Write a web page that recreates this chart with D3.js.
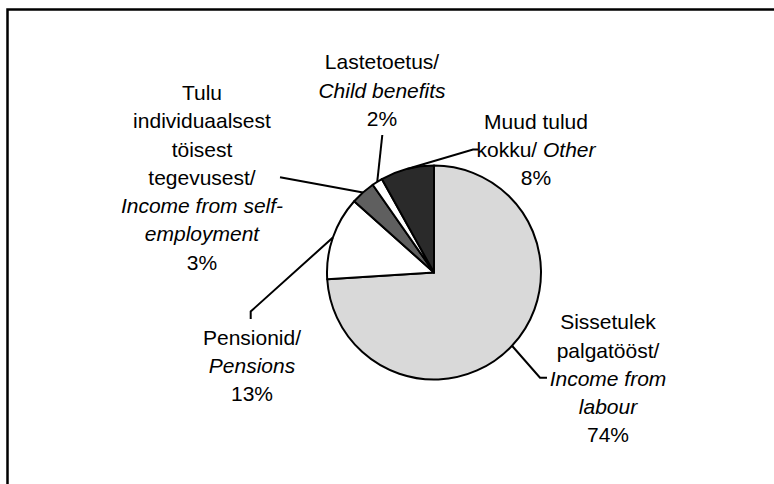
<!DOCTYPE html>
<html>
<head>
<meta charset="utf-8">
<script src="https://cdn.jsdelivr.net/npm/d3@7"></script>
<style>
  html, body { margin: 0; padding: 0; background: #fff; }
  svg { display: block; }
  text { font-family: "Liberation Sans", Arial, sans-serif; font-size: 21px; fill: #000; }
</style>
</head>
<body>
<div id="chart"></div>
<script>
// ---- data ----
const categories = ["labour", "pensions", "selfEmployment", "childBenefits", "other"];
const values = [74.0, 12.6, 3.7, 1.6, 8.1];
const pctLabels = ["74%", "13%", "3%", "2%", "8%"];
// label lines: [text, italic]
const labelLines = [
  [[["Sissetulek", false]], [["palgatööst/", false]], [["Income from", true]], [["labour", true]]],
  [[["Pensionid/", false]], [["Pensions", true]]],
  [[["Tulu", false]], [["individuaalsest", false]], [["töisest", false]], [["tegevusest/", false]], [["Income from self-", true]], [["employment", true]]],
  [[["Lastetoetus/", false]], [["Child benefits", true]]],
  [[["Muud tulud", false]], [["kokku/ ", false], ["Other", true]]]
];
const colors = ["#d9d9d9", "#ffffff", "#5f5f5f", "#ffffff", "#2a2a2a"];

// ---- layout ----
const W = 774, H = 484;
const cx = 434, cy = 272.5, R = 107;
const lineH = 28.3;
const labelPos = [
  {x: 608, y: 321.7, leader: [[540, 377.7], [547, 377.7]]},
  {x: 252, y: 337.3, leader: [[250.7, 311.5], [250.7, 319]]},
  {x: 202, y: 92.4,  leader: [[280, 177.3]]},
  {x: 382, y: 61.7,  leader: [[382.3, 135]]},
  {x: 536, y: 121.3, leader: [[473, 149.5], [478, 149.5]]}
];

const svg = d3.select("#chart").append("svg").attr("width", W).attr("height", H);

// outer border
svg.append("rect")
  .attr("x", 7.5).attr("y", 9.5).attr("width", 900).attr("height", 600)
  .attr("fill", "none").attr("stroke", "#000").attr("stroke-width", 2.5);

const data = categories.map((c, i) => ({cat: c, value: values[i], i}));
const pie = d3.pie().value(d => d.value).sort(null);
const arcs = pie(data);
const arc = d3.arc().innerRadius(0).outerRadius(R);

const g = svg.append("g").attr("transform", `translate(${cx},${cy})`);
g.selectAll("path.slice").data(arcs).enter().append("path")
  .attr("class", "slice")
  .attr("d", arc)
  .attr("fill", d => colors[d.data.i])
  .attr("stroke", "#000")
  .attr("stroke-width", 2)
  .attr("stroke-linejoin", "round");

// leader lines
const line = d3.line();
arcs.forEach(a => {
  const mid = (a.startAngle + a.endAngle) / 2;
  const p0 = [cx + R * Math.sin(mid), cy - R * Math.cos(mid)];
  const pts = [p0].concat(labelPos[a.data.i].leader);
  svg.append("path")
    .attr("d", line(pts))
    .attr("fill", "none")
    .attr("stroke", "#000")
    .attr("stroke-width", 2);
});

// labels
arcs.forEach(a => {
  const i = a.data.i;
  const pos = labelPos[i];
  const lines = labelLines[i].concat([[[pctLabels[i], false]]]);
  const t = svg.append("text").attr("text-anchor", "middle");
  lines.forEach((ln, k) => {
    ln.forEach((seg, s) => {
      const ts = t.append("tspan").text(seg[0])
        .attr("font-style", seg[1] ? "italic" : "normal")
        .style("white-space", "pre");
      if (s === 0) ts.attr("x", pos.x).attr("y", pos.y + k * lineH + 7.5);
    });
  });
  t.attr("xml:space", "preserve");
});
</script>
</body>
</html>
